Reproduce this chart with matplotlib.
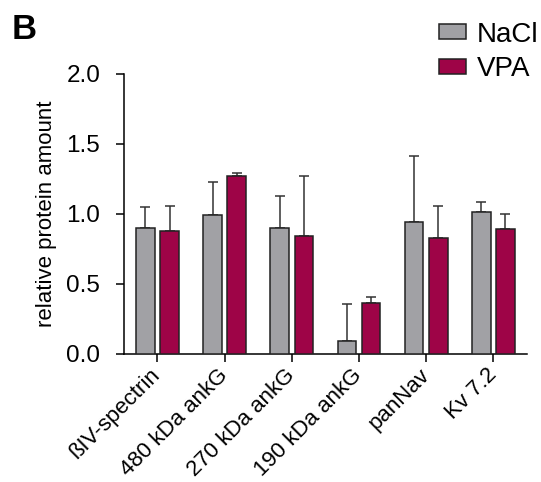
import numpy as np
from matplotlib import pyplot as plt
from matplotlib.patches import Patch

# Data
categories = ["ßIV-spectrin", "480 kDa ankG", "270 kDa ankG", "190 kDa ankG", "panNav", "Kv 7.2"]
nacl = [0.90, 0.99, 0.90, 0.09, 0.945, 1.015]
nacl_err = [0.15, 0.24, 0.23, 0.27, 0.47, 0.07]
vpa = [0.88, 1.27, 0.845, 0.365, 0.83, 0.895]
vpa_err = [0.18, 0.025, 0.425, 0.045, 0.23, 0.105]

grey = '#a1a1a5'
crimson = '#9e0447'
edge = '#222222'

plt.rcParams['font.family'] = ['Liberation Sans', 'DejaVu Sans']

fig = plt.figure(figsize=(5.41, 4.82), dpi=100, facecolor='white')
ax = fig.add_axes([0.229, 0.2656, 0.745, 0.581])

x = np.arange(len(categories))
w = 0.28
off = 0.18

ax.bar(x - off, nacl, w, color=grey, edgecolor=edge, linewidth=1.1, zorder=3)
ax.bar(x + off, vpa, w, color=crimson, edgecolor=edge, linewidth=1.1, zorder=3)

ax.errorbar(x - off, nacl, yerr=[np.zeros(len(nacl)), nacl_err], fmt='none',
            ecolor='#333333', elinewidth=1.1, capsize=3.6, capthick=1.1, zorder=2)
ax.errorbar(x + off, vpa, yerr=[np.zeros(len(vpa)), vpa_err], fmt='none',
            ecolor='#333333', elinewidth=1.1, capsize=3.6, capthick=1.1, zorder=2)

ax.set_xlim(-0.5, 5.5)
ax.set_ylim(0, 2.0)
ax.set_yticks([0.0, 0.5, 1.0, 1.5, 2.0])
ax.set_yticklabels(['0.0', '0.5', '1.0', '1.5', '2.0'], fontsize=17.5)
ax.set_xticks(x)
ax.set_xticklabels(categories, rotation=45, ha='right', va='center',
                   rotation_mode='anchor', fontsize=16)
ax.set_ylabel('relative protein amount', fontsize=16, labelpad=7)

for s in ['top', 'right']:
    ax.spines[s].set_visible(False)
ax.spines['left'].set_linewidth(1.1)
ax.spines['bottom'].set_linewidth(1.1)
ax.tick_params(axis='both', direction='out', width=1.1, length=6)
ax.tick_params(axis='y', pad=11)
ax.tick_params(axis='x', pad=7)

handles = [Patch(facecolor=grey, edgecolor=edge, linewidth=1.1, label='NaCl'),
           Patch(facecolor=crimson, edgecolor=edge, linewidth=1.1, label='VPA')]
fig.legend(handles=handles, loc='upper left', bbox_to_anchor=(0.812, 0.955),
           frameon=False, fontsize=20, handlelength=0.95, handleheight=0.45,
           handletextpad=0.4, labelspacing=0.3, borderpad=0, borderaxespad=0)

fig.text(0.022, 0.973, 'B', fontsize=25, fontweight='bold', va='top', ha='left')

plt.savefig('out.png', dpi=100)
